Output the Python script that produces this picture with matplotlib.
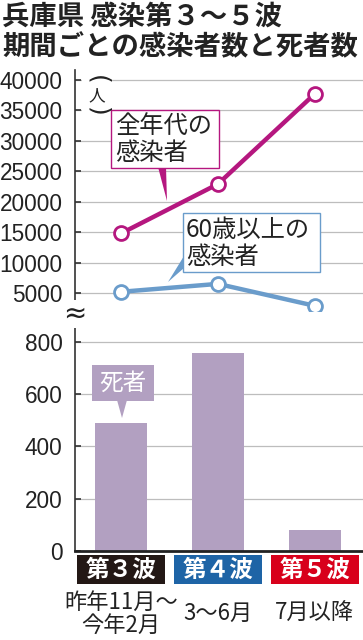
import matplotlib
matplotlib.use("Agg")
import matplotlib.pyplot as plt
from matplotlib import font_manager as fm
from matplotlib.patches import Rectangle, Polygon
from matplotlib.transforms import blended_transform_factory

# ---- data ----
categories = ['第３波', '第４波', '第５波']
cat_colors = ['#231815', '#1E64A6', '#D8001B']
periods = ['昨年11月～\n今年2月', '3～6月', '7月以降']
all_ages = [14800, 22900, 37700]
over60 = [5200, 6500, 2900]
deaths = [490, 756, 79]
top_ticks = [5000, 10000, 15000, 20000, 25000, 30000, 35000, 40000]
bottom_ticks = [0, 200, 400, 600, 800]

W, H = 363, 640
JP = ['Noto Sans CJK JP', 'DejaVu Sans']
plt.rcParams['font.family'] = JP

num_prop = fm.FontProperties(family=['Liberation Sans', 'DejaVu Sans'], size=16.3)

MAG = '#B5177F'
BLUE = '#6A9CCB'
BAR = '#B2A0C1'
GRID = '#BDBDBD'
AXC = '#333333'
TXT = '#222222'

fig = plt.figure(figsize=(W / 100, H / 100), dpi=100)
fig.patch.set_facecolor('white')


def px(x, y):
    return (x / W, 1 - y / H)


def add_axes_px(left, top, right, bottom):
    return fig.add_axes([left / W, 1 - bottom / H, (right - left) / W, (bottom - top) / H])


xs = list(range(len(categories)))
XLIM = (-0.477, 2.5)

# ---- top axes: cases ----
ax1 = add_axes_px(75, 70, 363, 311)
ax1.set_xlim(*XLIM)
ax1.set_ylim(2044, 41643)
ax1.set_yticks(top_ticks)
ax1.set_yticklabels([str(t) for t in top_ticks], fontproperties=num_prop, color=TXT)
ax1.set_xticks([])
for s in ['top', 'right', 'bottom']:
    ax1.spines[s].set_visible(False)
ax1.spines['left'].set_color(AXC)
ax1.spines['left'].set_linewidth(1.2)
ax1.tick_params(axis='y', direction='in', length=4, width=1.2, color=AXC, pad=9)
ax1.grid(axis='y', color=GRID, linewidth=0.9)
ax1.set_axisbelow(True)
ax1.plot(xs, all_ages, color=MAG, lw=3.2, marker='o', ms=10, mfc='white', mec=MAG, mew=2, zorder=3)
ax1.plot(xs, over60, color=BLUE, lw=3.2, marker='o', ms=10, mfc='white', mec=BLUE, mew=2, zorder=3)

# ---- bottom axes: deaths ----
ax2 = add_axes_px(75, 318, 363, 551)
ax2.set_xlim(*XLIM)
ax2.set_ylim(0, 890.7)
ax2.set_yticks(bottom_ticks)
ax2.set_yticklabels([str(t) for t in bottom_ticks], fontproperties=num_prop, color=TXT)
ax2.set_xticks([])
for s in ['top', 'right']:
    ax2.spines[s].set_visible(False)
ax2.spines['left'].set_color(AXC)
ax2.spines['left'].set_linewidth(1.2)
ax2.spines['bottom'].set_color(TXT)
ax2.spines['bottom'].set_linewidth(2)
ax2.tick_params(axis='y', direction='in', length=4, width=1.2, color=AXC, pad=9)
ax2.grid(axis='y', color=GRID, linewidth=0.9)
ax2.set_axisbelow(True)
ax2.bar(xs, deaths, width=0.54, color=BAR, zorder=2)

# category boxes and period labels
tr = blended_transform_factory(ax2.transData, ax2.transAxes)
for i, (c, col, p) in enumerate(zip(categories, cat_colors, periods)):
    ax2.add_patch(Rectangle((i - 0.455, -0.1416), 0.91, 0.1244, transform=tr,
                            facecolor=col, edgecolor='none', clip_on=False))
    ax2.text(i, -0.0794, c, transform=tr, ha='center', va='center', color='white',
             fontsize=17, fontweight='bold', family=JP)
    ax2.text(i, -0.268, p, transform=tr, ha='center', va='center', color=TXT,
             fontsize=16, linespacing=1.0, family=JP)

# ---- title ----
fig.text(*px(2, 17), '兵庫県 感染第３～５波', ha='left', va='center', fontsize=19.7,
         fontweight='bold', color=TXT, family=JP)
fig.text(*px(2, 47), '期間ごとの感染者数と死者数', ha='left', va='center', fontsize=19.7,
         fontweight='bold', color=TXT, family=JP)

# ---- unit (人) ----
fig.patches.append(Rectangle(px(82, 116), 28 / W, 42 / H, transform=fig.transFigure,
                             facecolor='white', edgecolor='none', zorder=2))
fig.text(*px(97, 80), '(', rotation=-90, ha='center', va='center', fontsize=18,
         color=TXT, family=['DejaVu Sans'], zorder=3)
fig.text(*px(97, 96), '人', ha='center', va='center', fontsize=12, color=TXT,
         family=JP, zorder=3)
fig.text(*px(97, 112), ')', rotation=-90, ha='center', va='center', fontsize=18,
         color=TXT, family=['DejaVu Sans'], zorder=3)

# ---- break mark ----
fig.text(*px(75, 314), '≈', ha='center', va='center', fontsize=20, color=TXT,
         family=['DejaVu Sans'], zorder=3,
         bbox=dict(facecolor='white', edgecolor='none', pad=0))

# ---- callout: all ages ----
fig.patches.append(Polygon([px(158, 167), px(166, 167), px(167, 201)], closed=True,
                           transform=fig.transFigure, facecolor=MAG, edgecolor='none', zorder=2))
fig.patches.append(Rectangle(px(111, 168), 108 / W, 58 / H, transform=fig.transFigure,
                             facecolor='white', edgecolor=MAG, linewidth=1.0, zorder=3))
fig.text(*px(115, 139), '全年代の\n感染者', ha='left', va='center', fontsize=17.5,
         linespacing=1.05, color=TXT, family=JP, zorder=4)

# ---- callout: 60+ ----
fig.patches.append(Polygon([px(184, 256), px(184, 268), px(168, 282)], closed=True,
                           transform=fig.transFigure, facecolor=BLUE, edgecolor='none', zorder=2))
fig.patches.append(Rectangle(px(183, 272), 137 / W, 59 / H, transform=fig.transFigure,
                             facecolor='white', edgecolor=BLUE, linewidth=1.0, zorder=3))
fig.text(*px(186, 243), '60歳以上の\n感染者', ha='left', va='center', fontsize=17.5,
         linespacing=1.05, color=TXT, family=JP, zorder=4)

# ---- callout: deaths ----
fig.patches.append(Polygon([px(117, 400), px(127, 400), px(122, 418)], closed=True,
                           transform=fig.transFigure, facecolor=BAR, edgecolor='none', zorder=2))
fig.patches.append(Rectangle(px(92, 401), 62 / W, 36 / H, transform=fig.transFigure,
                             facecolor=BAR, edgecolor='none', zorder=3))
fig.text(*px(123, 383), '死者', ha='center', va='center', fontsize=17, color='white',
         family=JP, zorder=4)

fig.savefig('out.png', dpi=100)
